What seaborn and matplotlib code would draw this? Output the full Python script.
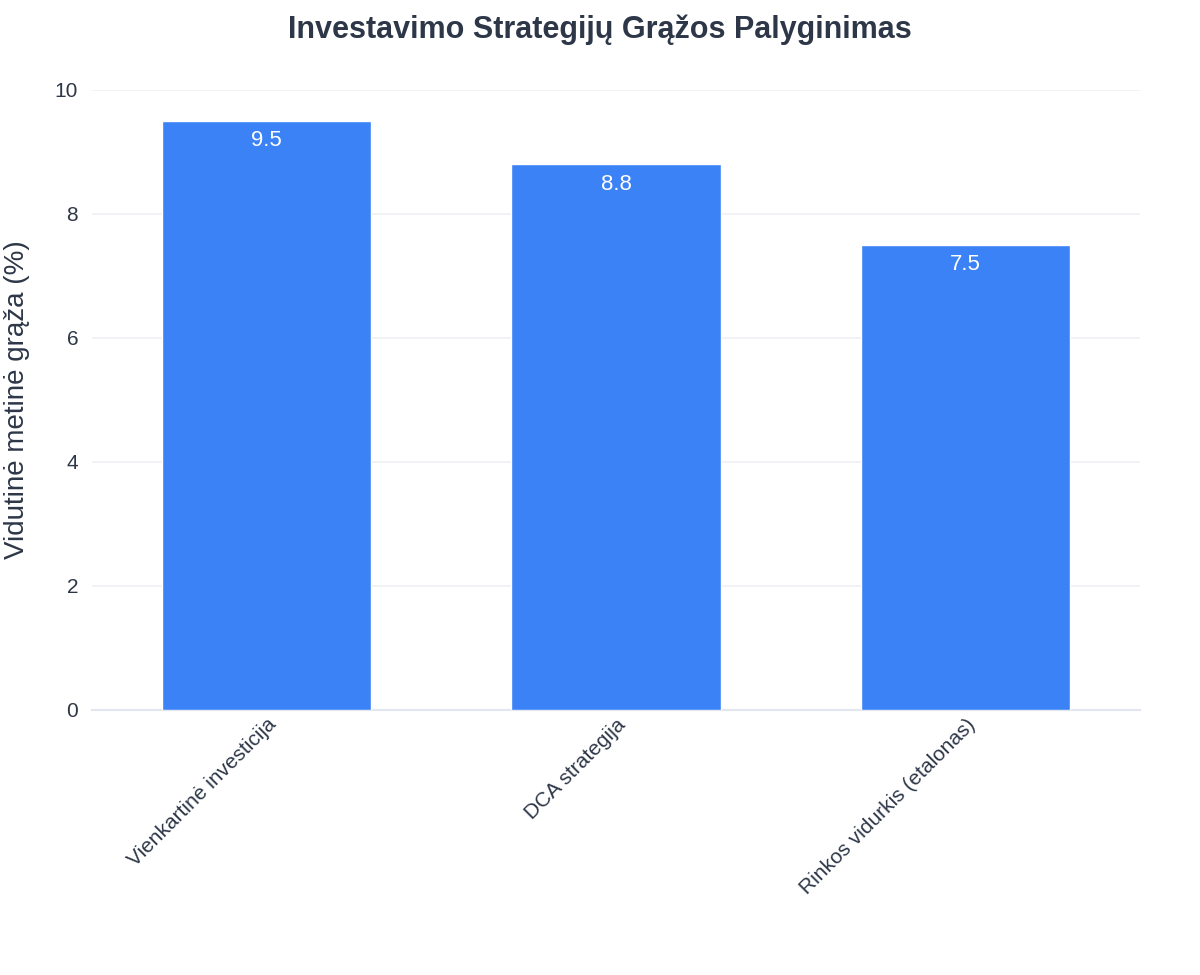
import matplotlib
matplotlib.use("Agg")
import matplotlib.pyplot as plt
import seaborn as sns
import pandas as pd

categories = ["Vienkartinė investicija", "DCA strategija", "Rinkos vidurkis (etalonas)"]
values = [9.5, 8.8, 7.5]

sns.set_theme(style="white")
plt.rcParams['font.family'] = ['Liberation Sans', 'DejaVu Sans']
txt = "#2d3748"

fig = plt.figure(figsize=(12, 9.75), dpi=100)
ax = fig.add_axes([0.0767, 0.2718, 0.8733, 0.6359])
df = pd.DataFrame({"cat": categories, "val": values})
sns.barplot(data=df, x="cat", y="val", color="#3B82F6", saturation=1, width=0.6, ax=ax, zorder=3)
for i, v in enumerate(values):
    ax.text(i, v - 0.15, f"{v}", ha="center", va="top", color="white", fontsize=16, zorder=4)
ax.set_ylim(0, 10)
ax.set_yticks([0, 2, 4, 6, 8, 10])
ax.yaxis.grid(True, color="#edf0f4", linewidth=1.2, zorder=0)
for s in ["top", "right", "left"]:
    ax.spines[s].set_visible(False)
ax.spines["bottom"].set_color("#e2e6ee")
ax.spines["bottom"].set_linewidth(1.5)
ax.tick_params(axis="y", labelsize=15, colors=txt, length=0, pad=10)
ax.tick_params(axis="x", labelsize=15, colors=txt, length=0)
plt.setp(ax.get_xticklabels(), rotation=45, ha="right", rotation_mode="anchor")
ax.set_xlabel("")
ax.set_ylabel("Vidutinė metinė grąža (%)", fontsize=20, color=txt, labelpad=18)
fig.suptitle("Investavimo Strategijų Grąžos Palyginimas", fontsize=22, fontweight="bold", color=txt, y=0.985)
fig.savefig("out.png", dpi=100, facecolor="white")
